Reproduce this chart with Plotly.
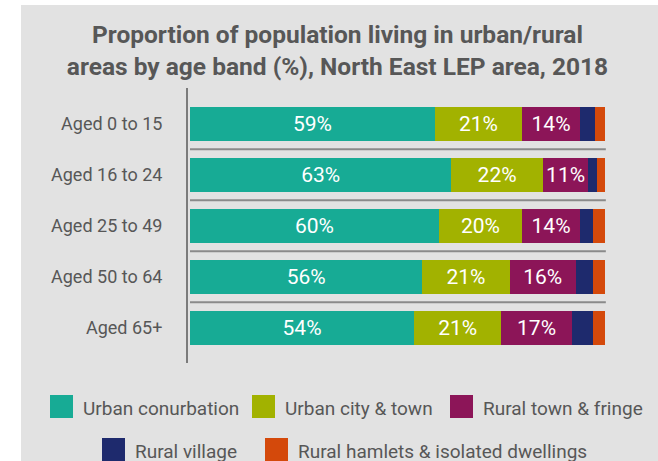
import plotly.graph_objects as go

# Age bands (top to bottom) and share of population (%) by settlement type
age_bands = ["Aged 0 to 15", "Aged 16 to 24", "Aged 25 to 49", "Aged 50 to 64", "Aged 65+"]

series_names = [
    "Urban conurbation",
    "Urban city & town",
    "Rural town & fringe",
    "Rural village",
    "Rural hamlets & isolated dwellings",
]
urban_conurbation = [59, 63, 60, 56, 54]
urban_city_town = [21, 22, 20, 21, 21]
rural_town_fringe = [14, 11, 14, 16, 17]
rural_village = [3.5, 2, 3, 4, 5]
rural_hamlets = [2.5, 2, 3, 3, 3]

series_values = [urban_conurbation, urban_city_town, rural_town_fringe,
                 rural_village, rural_hamlets]
series_colors = ["#17ab95", "#a2b200", "#8c1558", "#1e2a6d", "#d4490b"]
labelled = [True, True, True, False, False]

W, H = 658, 461
ML, MR, MT, MB = 188, 52, 88, 98
PW, PH = W - ML - MR, H - MT - MB

FONT = "Roboto"
GREY_TEXT = "#575757"


def px_x(p):
    return (p - ML) / PW


def px_y(p):
    return 1 - (p - MT) / PH


fig = go.Figure()
for name, vals, color, lab in zip(series_names, series_values, series_colors, labelled):
    fig.add_trace(go.Bar(
        y=age_bands,
        x=vals,
        name=name,
        orientation="h",
        marker=dict(color=color, line=dict(width=0)),
        text=[f"{v:g}%" for v in vals] if lab else None,
        textposition="inside" if lab else "none",
        insidetextanchor="middle",
        textangle=0,
        textfont=dict(family=FONT, size=21, color="white"),
        showlegend=False,
        hoverinfo="skip",
    ))

shapes = [
    # panel background
    dict(type="rect", xref="paper", yref="paper", layer="below",
         x0=px_x(21), x1=px_x(W + 2), y0=px_y(H + 2), y1=px_y(5),
         fillcolor="#e2e2e2", line=dict(width=0)),
]
# separators between age bands
for i in range(len(age_bands) - 1):
    shapes.append(dict(type="line", xref="x", yref="y", layer="above",
                       x0=0, x1=100.2, y0=i + 0.5, y1=i + 0.5,
                       line=dict(color="#8a8a8a", width=2)))

# legend: two centred rows of square swatches
legend_rows = [(0, 50, 406.5), (1, 252, 406.5), (2, 450, 406.5),
               (3, 102, 449.5), (4, 265, 449.5)]
annotations = []
SW = 23
for idx, left, cy in legend_rows:
    shapes.append(dict(type="rect", xref="paper", yref="paper", layer="above",
                       x0=px_x(left), x1=px_x(left + SW),
                       y0=px_y(cy + SW / 2), y1=px_y(cy - SW / 2),
                       fillcolor=series_colors[idx], line=dict(width=0)))
    annotations.append(dict(xref="paper", yref="paper",
                            x=px_x(left + SW + 8), y=px_y(cy + 2),
                            xanchor="left", yanchor="middle", showarrow=False,
                            text=series_names[idx],
                            font=dict(family=FONT, size=19, color=GREY_TEXT)))

fig.update_layout(
    width=W, height=H, autosize=False,
    margin=dict(l=ML, r=MR, t=MT, b=MB, pad=0),
    paper_bgcolor="white",
    plot_bgcolor="rgba(0,0,0,0)",
    barmode="stack",
    bargap=1 - 34 / 51,
    title=dict(
        text="Proportion of population living in urban/rural<br>"
             "areas by age band (%), North East LEP area, 2018",
        x=337.5 / W, xanchor="center", xref="container",
        y=1 - 43 / H, yanchor="middle", yref="container",
        font=dict(family=FONT, size=24.5, color=GREY_TEXT, weight="bold"),
    ),
    xaxis=dict(visible=False, range=[-2 / 4.15, -2 / 4.15 + PW / 4.15], fixedrange=True),
    yaxis=dict(
        type="category",
        categoryorder="array", categoryarray=age_bands,
        range=[len(age_bands) - 1 + 0.69, -0.7],
        showline=True, linecolor="#7b7b7b", linewidth=2,
        showgrid=False, zeroline=False, ticks="",
        ticklabelstandoff=20,
        tickfont=dict(family=FONT, size=18, color=GREY_TEXT),
    ),
    shapes=shapes,
    annotations=annotations,
    uniformtext=dict(minsize=21, mode="show"),
)

fig.write_html("out.html")
